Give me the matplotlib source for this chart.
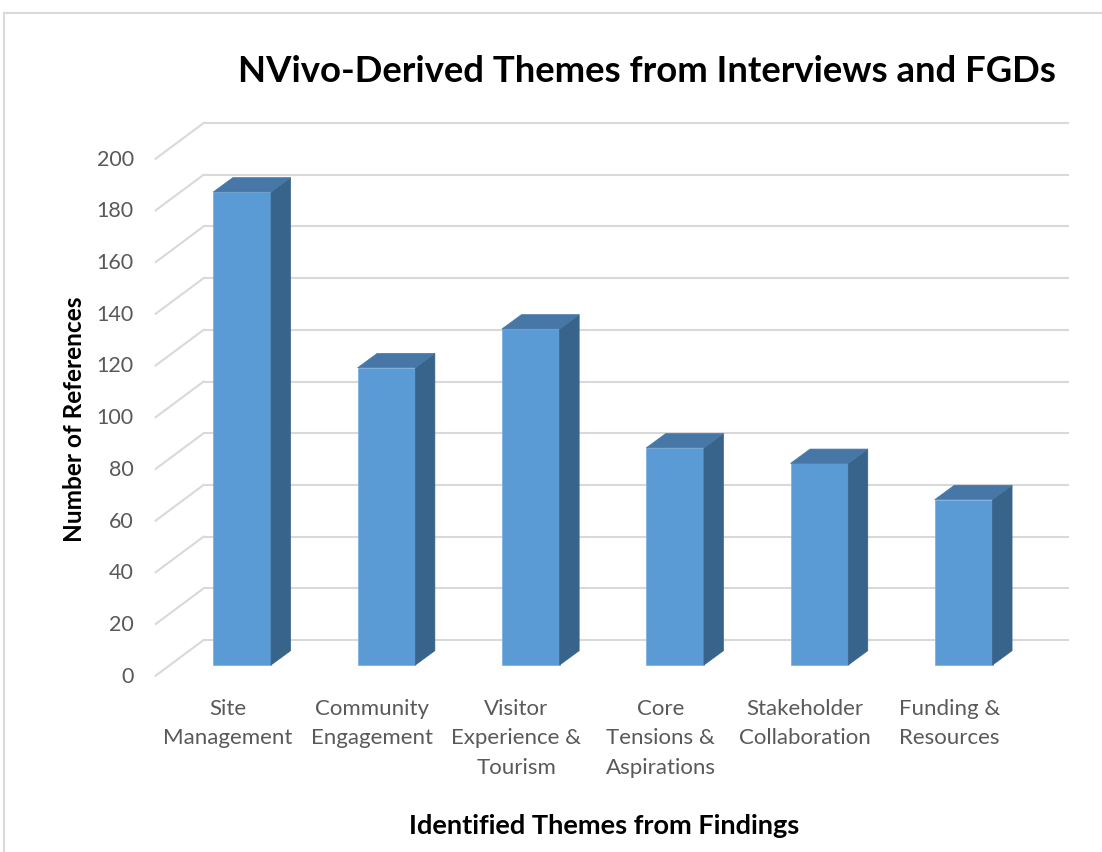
import matplotlib
matplotlib.use("Agg")
import matplotlib.pyplot as plt
from matplotlib.patches import Polygon, Rectangle

# Datos del gráfico
temas = ["Site\nManagement", "Community\nEngagement", "Visitor\nExperience &\nTourism",
         "Core\nTensions &\nAspirations", "Stakeholder\nCollaboration", "Funding &\nResources"]
referencias = [183, 115, 130, 84, 78, 64]
ticks_y = [0, 20, 40, 60, 80, 100, 120, 140, 160, 180, 200]

titulo = "NVivo-Derived Themes from Interviews and FGDs"
etiqueta_x = "Identified Themes from Findings"
etiqueta_y = "Number of References"

plt.rcParams["font.family"] = ["Lato", "DejaVu Sans"]

# Escala (pixeles por unidad) y desplazamientos de la perspectiva
W, H = 1102, 853
px_cat, px_val = 144.3, 2.585
x0_px, y0_px = 242.2, 666.0

def dx(px):
    return px / px_cat

def dy(px):
    return px / px_val

fondo = (dx(33.6), dy(25.0))      # pared del fondo respecto al plano de las barras
frente = (dx(-14.4), dy(-10.7))   # borde frontal
prof = (dx(19.5), dy(14.3))       # profundidad de cada barra
ancho = 0.4

c_frente = "#5B9BD5"
c_tapa = "#4677A6"
c_lado = "#38638A"
c_grid = "#D9D9D9"
c_texto = "#595959"

fig = plt.figure(figsize=(W / 100, H / 100), dpi=100)
ax = fig.add_axes([0, 0, 1, 1])
ax.set_xlim(-x0_px / px_cat, (W - x0_px) / px_cat)
ax.set_ylim((y0_px - H) / px_val, y0_px / px_val)
ax.axis("off")

n = len(temas)
izq, der = -0.5, n - 0.5

# Rejilla: pared del fondo y pared izquierda
for v in ticks_y:
    ax.plot([izq + fondo[0], der + fondo[0]], [v + fondo[1], v + fondo[1]],
            color=c_grid, lw=1.5, zorder=1, solid_capstyle="butt")
    ax.plot([izq + frente[0], izq + fondo[0]], [v + frente[1], v + fondo[1]],
            color=c_grid, lw=1.5, zorder=1)
    ax.text(izq + frente[0] - dx(22), v + frente[1], str(v), ha="right", va="center",
            fontsize=15.5, color=c_texto)

# Barras 3D
for i, v in enumerate(referencias):
    a, b = i - ancho / 2, i + ancho / 2
    ax.add_patch(Rectangle((a, 0), ancho, v, facecolor=c_frente,
                           edgecolor="#7DB0E0", lw=0.6, zorder=3))
    ax.add_patch(Polygon([(b, 0), (b, v), (b + prof[0], v + prof[1]), (b + prof[0], prof[1])],
                         closed=True, facecolor=c_lado, edgecolor=c_lado, lw=0.5, zorder=3))
    ax.add_patch(Polygon([(a, v), (b, v), (b + prof[0], v + prof[1]), (a + prof[0], v + prof[1])],
                         closed=True, facecolor=c_tapa, edgecolor=c_tapa, lw=0.5, zorder=3))
    ax.text(i + frente[0], dy(-33), temas[i], ha="center", va="top", fontsize=16,
            color=c_texto, linespacing=1.58)

# Títulos
fig.text(647 / W, 1 - 72 / H, titulo, ha="center", va="center",
         fontsize=26.3, fontweight="bold", color="black")
fig.text(604 / W, 1 - 826 / H, etiqueta_x, ha="center", va="center",
         fontsize=19.5, fontweight="bold", color="black")
fig.text(75 / W, 1 - 419 / H, etiqueta_y, ha="center", va="center", rotation=90,
         fontsize=17.6, fontweight="bold", color="black")

# Borde del área del gráfico
fig.add_artist(plt.Line2D([4 / W, 1], [1 - 14 / H, 1 - 14 / H], color=c_grid, lw=1.5))
fig.add_artist(plt.Line2D([4 / W, 4 / W], [0, 1 - 14 / H], color=c_grid, lw=1.5))

fig.savefig("out.png", dpi=100)
